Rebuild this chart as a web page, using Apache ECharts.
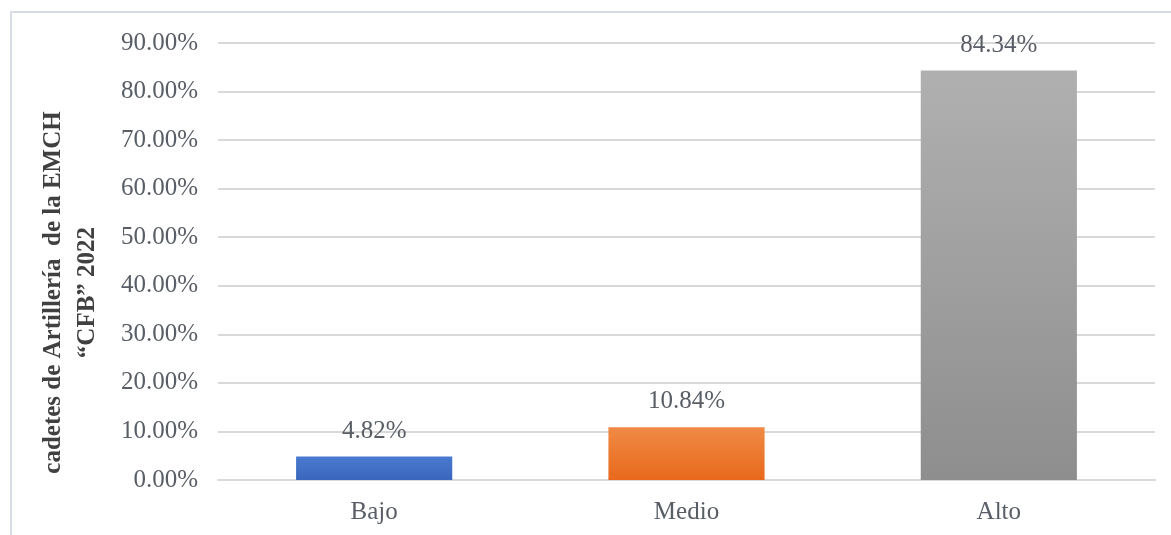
<!DOCTYPE html>
<html>
<head>
<meta charset="utf-8">
<script src="https://cdn.jsdelivr.net/npm/echarts@6/dist/echarts.min.js"></script>
<style>
html,body{margin:0;padding:0;background:#fff;}
#chart{width:1171px;height:535px;}
</style>
</head>
<body>
<div id="chart"></div>
<script>
var categories = ['Bajo', 'Medio', 'Alto'];
var values = [4.82, 10.84, 84.34];
var barColors = [
	['#4A7BD0', '#3A66BC'],
	['#F08A45', '#E8691C'],
	['#B0B0B0', '#8E8E8E']
];

var chart = echarts.init(document.getElementById('chart'));
var serif = '"Liberation Serif", "Times New Roman", serif';

var option = {
	backgroundColor: '#fff',
	animation: false,
	graphic: [{
		type: 'rect',
		shape: {x: 11, y: 12, width: 1175, height: 540},
		style: {fill: 'none', stroke: '#D9DEE6', lineWidth: 2}
	}],
	grid: {left: 218, right: 16, top: 43, bottom: 55, outerBoundsMode: 'none', containLabel: false},
	xAxis: {
		type: 'category',
		data: categories,
		axisTick: {show: false},
		axisLine: {lineStyle: {color: '#D9D9D9', width: 2}},
		axisLabel: {fontFamily: serif, fontSize: 25, color: '#595E66', margin: 20}
	},
	yAxis: {
		type: 'value',
		min: 0,
		max: 90,
		interval: 10,
		name: 'cadetes de Artillería  de la EMCH\n“CFB” 2022',
		nameLocation: 'middle',
		nameGap: 113,
		nameTextStyle: {fontFamily: serif, fontSize: 25, fontWeight: 'bold', color: '#404040', lineHeight: 34, padding: [0, 62, 0, 0]},
		axisLabel: {
			fontFamily: serif, fontSize: 25, color: '#595E66', margin: 20,
			formatter: function (v) { return v.toFixed(2) + '%'; }
		},
		splitLine: {lineStyle: {color: '#D9D9D9', width: 2}}
	},
	series: [{
		type: 'bar',
		barWidth: '50%',
		data: values.map(function (v, i) {
			return {
				value: v,
				itemStyle: {
					color: new echarts.graphic.LinearGradient(0, 0, 0, 1, [
						{offset: 0, color: barColors[i][0]},
						{offset: 1, color: barColors[i][1]}
					])
				}
			};
		}),
		label: {
			show: true,
			position: 'top',
			distance: 13,
			fontFamily: serif,
			fontSize: 25,
			color: '#595E66',
			formatter: function (p) { return p.value.toFixed(2) + '%'; }
		}
	}]
};
chart.setOption(option);
</script>
</body>
</html>
